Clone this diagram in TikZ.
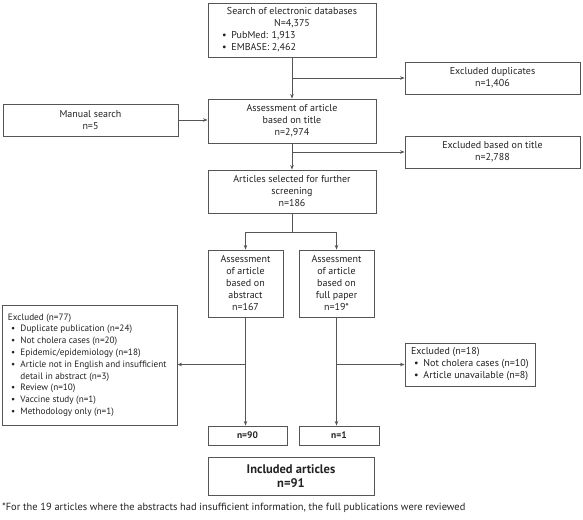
\documentclass[tikz,border=0pt]{standalone}
\usepackage{fontspec}
\setmainfont{PT Sans}
\usetikzlibrary{arrows.meta}
\definecolor{linec}{HTML}{555555}
\definecolor{txtc}{HTML}{222222}
\newcommand\bul{\hspace*{3pt}\makebox[9.5pt][l]{\textbullet}}
\begin{document}
\begin{tikzpicture}[x=1pt,y=-1pt,
  box/.style={draw=linec, line width=0.9pt, rectangle, inner sep=0pt, text=txtc,
    font=\fontsize{10}{12}\selectfont, align=center},
  conn/.style={draw=linec, line width=0.9pt},
  arr/.style={conn, -{Stealth[length=4.5pt,width=3.5pt]}}]
\useasboundingbox (0,0) rectangle (583,519);

\node[box, minimum width=168pt, minimum height=54pt] (search) at (292,30)
  {\parbox{154pt}{\centering Search of electronic databases\\N=4,375\par\raggedright
   \hspace*{4pt}\bul PubMed: 1,913\\\hspace*{4pt}\bul EMBASE: 2,462}};
\node[box, minimum width=175pt, minimum height=32pt] (dup) at (492.5,78)
  {Excluded duplicates\\n=1,406};
\node[box, minimum width=175pt, minimum height=32pt] (manual) at (90.5,120)
  {Manual search\\n=5};
\node[box, minimum width=168pt, minimum height=44pt] (assess) at (292,121)
  {Assessment of article\\based on title\\n=2,974};
\node[box, minimum width=175pt, minimum height=32pt] (extitle) at (492.5,152)
  {Excluded based on title\\n=2,788};
\node[box, minimum width=168pt, minimum height=43pt] (articles) at (292,191.5)
  {Articles selected for further\\screening\\n=186};
\node[box, minimum width=75pt, minimum height=67pt] (abs) at (245.5,283.5)
  {Assessment\\of article\\based on\\abstract\\n=167};
\node[box, minimum width=75pt, minimum height=67pt] (full) at (336.5,283.5)
  {Assessment\\of article\\based on\\full paper\\n=19*};
\node[box, minimum width=175pt, minimum height=120pt, font=\fontsize{9.2}{11.8}\selectfont] (ex77) at (89.5,365)
  {\parbox{163pt}{\raggedright Excluded (n=77)\\
   \bul Duplicate publication (n=24)\\
   \bul Not cholera cases (n=20)\\
   \bul Epidemic/epidemiology (n=18)\\
   \mbox{\bul Article not in English and insufficient}\\
   \hspace*{12.5pt}detail in abstract (n=3)\\
   \bul Review (n=10)\\
   \bul Vaccine study (n=1)\\
   \bul Methodology only (n=1)}};
\node[box, minimum width=130pt, minimum height=43pt] (ex18) at (470,364.5)
  {\parbox{118pt}{\raggedright Excluded (n=18)\\
   \bul Not cholera cases (n=10)\\
   \bul Article unavailable (n=8)}};
\node[box, minimum width=79pt, minimum height=19pt, font=\bfseries\fontsize{9.5}{12}\selectfont] (n90) at (247.5,435.5) {n=90};
\node[box, minimum width=80pt, minimum height=19pt, font=\bfseries\fontsize{9.5}{12}\selectfont] (n1) at (339,435.5) {n=1};
\node[box, minimum width=166pt, minimum height=38pt, font=\bfseries\fontsize{12.5}{14}\selectfont] (incl) at (291,476)
  {Included articles\\n=91};
\node[anchor=west, inner sep=0pt, text=txtc, font=\fontsize{10.4}{12}\selectfont] (foot) at (2,508)
  {*For the 19 articles where the abstracts had insufficient information, the full publications were reviewed};

\coordinate (sp) at (292,232);
\draw[arr] (search.south) -- (assess.north);
\draw[arr] (search.south |- dup.west) -- (dup.west);
\draw[arr] (manual.east) -- (manual.east -| assess.west);
\draw[arr] (assess.south) -- (articles.north);
\draw[arr] (assess.south |- extitle.west) -- (extitle.west);
\draw[conn] (articles.south) -- (sp);
\draw[arr] (sp) -| (abs.north);
\draw[arr] (sp) -| (full.north);
\draw[arr] (abs.south) -- (abs.south |- n90.north);
\draw[arr] (full.south) -- (full.south |- n1.north);
\draw[arr] (abs.south |- ex18.west) -- (ex77.east |- ex18.west);
\draw[arr] (full.south |- ex18.west) -- (ex18.west);
\end{tikzpicture}
\end{document}
